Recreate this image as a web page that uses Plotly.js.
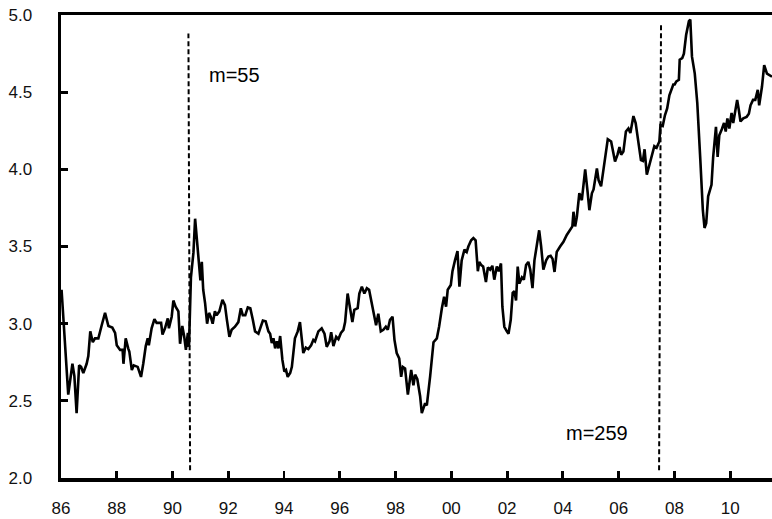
<!DOCTYPE html>
<html>
<head>
<meta charset="utf-8">
<script src="https://cdn.plot.ly/plotly-3.0.1.min.js"></script>
<style>html,body{margin:0;padding:0;background:#fff;}#chart{width:772px;height:519px;}</style>
</head>
<body>
<div id="chart"></div>
<script>
// Series (decimal year, value)
const years = [
1986.02,1986.26,1986.41,1986.48,1986.56,1986.65,1986.72,1986.80,1986.92,1986.98,
1987.05,1987.14,1987.22,1987.34,1987.46,1987.58,1987.70,1987.84,1987.94,
1988.00,1988.12,1988.21,1988.24,1988.32,1988.41,1988.45,1988.54,1988.61,1988.75,1988.87,1988.95,
1989.04,1989.11,1989.15,1989.25,1989.35,1989.43,1989.59,1989.64,1989.73,1989.83,1989.87,1989.97,
1990.03,1990.11,1990.21,1990.27,1990.35,1990.42,1990.48,1990.55,1990.59,1990.66,1990.75,1990.81,1990.90,1990.96,
1991.00,1991.05,1991.10,1991.17,1991.24,1991.31,1991.37,1991.44,1991.52,1991.58,1991.68,1991.79,1991.88,1991.95,
1992.04,1992.12,1992.24,1992.36,1992.45,1992.52,1992.61,1992.70,1992.79,1992.88,1992.96,
1993.08,1993.17,1993.24,1993.34,1993.44,1993.50,1993.56,1993.62,1993.68,1993.74,1993.80,1993.86,1993.94,
1994.01,1994.07,1994.13,1994.22,1994.28,1994.33,1994.39,1994.49,1994.57,1994.69,1994.78,1994.87,1994.97,
1995.05,1995.11,1995.23,1995.35,1995.45,1995.53,1995.63,1995.69,1995.77,1995.87,1995.95,
1996.04,1996.13,1996.19,1996.28,1996.37,1996.45,1996.52,1996.64,1996.70,1996.79,1996.88,1996.97,
1997.05,1997.15,1997.24,1997.30,1997.38,1997.47,1997.56,1997.65,1997.72,1997.80,1997.89,1997.96,
1998.04,1998.13,1998.20,1998.26,1998.34,1998.44,1998.56,1998.64,1998.70,1998.78,1998.88,1998.94,
1999.06,1999.12,1999.24,1999.36,1999.48,1999.56,1999.66,1999.74,1999.81,1999.87,1999.98,
2000.04,2000.13,2000.22,2000.29,2000.37,2000.47,2000.55,2000.61,2000.71,2000.79,2000.87,2000.95,
2001.00,2001.07,2001.14,2001.24,2001.31,2001.39,2001.47,2001.54,2001.63,2001.70,2001.78,2001.83,2001.90,2001.99,
2002.05,2002.13,2002.20,2002.26,2002.32,2002.38,2002.44,2002.53,2002.60,2002.68,2002.76,2002.83,2002.91,2002.98,
2003.07,2003.15,2003.22,2003.30,2003.40,2003.48,2003.56,2003.63,2003.70,2003.78,2003.90,
2004.02,2004.14,2004.26,2004.34,2004.38,2004.44,2004.50,2004.59,2004.68,2004.80,2004.88,2004.95,
2005.04,2005.10,2005.22,2005.28,2005.37,2005.45,2005.54,2005.61,2005.73,2005.81,2005.87,2005.96,
2006.03,2006.09,2006.17,2006.26,2006.35,2006.42,2006.53,2006.61,2006.71,2006.80,2006.87,2006.93,
2007.01,2007.11,2007.19,2007.28,2007.36,2007.46,2007.50,2007.58,2007.66,2007.74,2007.82,2007.90,2007.96,
2008.01,2008.07,2008.16,2008.19,2008.28,2008.34,2008.42,2008.52,2008.57,2008.63,2008.73,2008.82,2008.93,
2009.02,2009.08,2009.14,2009.21,2009.33,2009.39,2009.49,2009.55,2009.61,2009.70,2009.78,2009.84,2009.90,2009.97,
2010.05,2010.11,2010.19,2010.25,2010.31,2010.37,2010.47,2010.59,2010.67,2010.73,2010.82,2010.90,2010.99,
2011.04,2011.14,2011.22,2011.32,2011.40,2011.50
];
const values = [
3.22,2.54,2.74,2.66,2.42,2.73,2.72,2.68,2.74,2.79,
2.95,2.88,2.905,2.905,2.99,3.07,2.985,2.975,2.94,
2.86,2.83,2.83,2.74,2.905,2.84,2.82,2.70,2.73,2.72,2.655,2.74,
2.855,2.905,2.86,2.97,3.03,3.005,3.005,2.93,2.97,3.035,2.97,3.045,
3.15,3.11,3.08,2.87,2.985,2.915,2.83,2.94,2.85,3.30,3.46,3.68,3.50,3.39,
3.28,3.40,3.22,3.13,3.00,3.07,3.045,3.00,3.08,3.055,3.08,3.155,3.12,3.025,
2.915,2.96,2.98,3.01,3.10,3.055,3.055,3.105,3.10,3.025,2.95,
2.935,2.99,3.02,3.015,2.95,2.935,2.875,2.905,2.84,2.885,2.84,2.92,2.765,
2.69,2.70,2.655,2.68,2.72,2.81,2.905,2.95,3.01,2.81,2.845,2.835,2.86,
2.895,2.885,2.95,2.97,2.935,2.85,2.885,2.945,2.855,2.915,2.90,
2.94,2.96,3.01,3.195,3.09,3.01,3.09,3.10,3.195,3.24,3.195,3.23,
3.22,3.12,3.035,2.99,3.065,2.95,2.96,2.98,2.96,3.025,3.045,2.895,
2.81,2.775,2.655,2.72,2.71,2.54,2.70,2.60,2.67,2.64,2.53,2.42,
2.485,2.47,2.66,2.88,2.905,2.98,3.10,3.175,3.11,3.22,3.25,
3.34,3.41,3.47,3.24,3.41,3.48,3.465,3.50,3.54,3.555,3.54,3.34,
3.40,3.38,3.37,3.27,3.365,3.35,3.375,3.285,3.37,3.34,3.39,3.11,2.98,2.95,
2.935,3.025,3.20,3.21,3.15,3.37,3.26,3.30,3.285,3.38,3.40,3.35,3.23,3.41,
3.50,3.605,3.50,3.35,3.41,3.435,3.44,3.42,3.335,3.465,3.50,
3.53,3.575,3.605,3.63,3.725,3.63,3.69,3.845,3.80,4.00,3.865,3.735,
3.845,3.87,4.005,3.93,3.89,3.985,4.08,4.195,4.18,4.105,4.05,4.095,
4.145,4.095,4.115,4.245,4.265,4.235,4.345,4.30,4.17,4.06,4.055,4.13,
3.965,4.04,4.08,4.15,4.14,4.18,4.285,4.28,4.35,4.395,4.48,4.515,4.55,
4.55,4.57,4.58,4.71,4.72,4.75,4.87,4.96,4.97,4.73,4.62,4.43,4.06,
3.735,3.62,3.65,3.825,3.90,4.08,4.275,4.08,4.22,4.26,4.30,4.245,4.33,4.265,
4.365,4.30,4.395,4.45,4.385,4.31,4.33,4.34,4.36,4.415,4.45,4.45,4.515,
4.415,4.535,4.675,4.62,4.61,4.60
];

// Break-point markers (dashed verticals) and their labels
const breakLabels = ["m=55", "m=259"];
const breakX0 = [1990.63, 2007.45];   // bottom x
const breakX1 = [1990.57, 2007.52];   // top x
const breakY0 = [2.05, 2.05];
const breakY1 = [4.88, 4.94];
const labelX = [1991.22, 2004.05];
const labelY = [4.61, 2.29];

const xTickVals = [1986,1988,1990,1992,1994,1996,1998,2000,2002,2004,2006,2008,2010];
const xTickText = ["86","88","90","92","94","96","98","00","02","04","06","08","10"];

const FONT = "Liberation Sans, Arial, sans-serif";

const traces = [{
  x: years, y: values, type: "scatter", mode: "lines",
  line: {color: "#000", width: 2.6}, hoverinfo: "skip", showlegend: false
}];

const shapes = breakX0.map((x0, i) => ({
  type: "line", xref: "x", yref: "y",
  x0: x0, x1: breakX1[i], y0: breakY0[i], y1: breakY1[i],
  line: {color: "#000", width: 2, dash: "5px,3px"}
}));

const annotations = breakLabels.map((t, i) => ({
  x: labelX[i], y: labelY[i], xref: "x", yref: "y",
  text: t, showarrow: false, xanchor: "left", yanchor: "middle",
  font: {family: FONT, size: 20, color: "#000"}
}));

const layout = {
  width: 772, height: 519,
  margin: {l: 61, r: 0, t: 15, b: 41, pad: 0},
  paper_bgcolor: "#fff", plot_bgcolor: "#fff",
  showlegend: false,
  xaxis: {
    range: [1986, 2011.5], tickmode: "array", tickvals: xTickVals, ticktext: xTickText,
    ticks: "inside", ticklen: 7, tickwidth: 2.8, tickcolor: "#000",
    showline: true, linewidth: 3.5, linecolor: "#000", mirror: true,
    showgrid: false, zeroline: false,
    tickfont: {family: FONT, size: 17, color: "#111"}, ticklabelstandoff: 12
  },
  yaxis: {
    range: [2, 5], tickmode: "linear", tick0: 2, dtick: 0.5, tickformat: ".1f",
    ticks: "inside", ticklen: 7, tickwidth: 2.8, tickcolor: "#000",
    showline: true, linewidth: 3.5, linecolor: "#000",
    showgrid: false, zeroline: false,
    tickfont: {family: FONT, size: 17, color: "#111"}, ticklabelstandoff: 22
  },
  shapes: shapes,
  annotations: annotations
};

Plotly.newPlot("chart", traces, layout, {displayModeBar: false, staticPlot: true});
</script>
</body>
</html>
